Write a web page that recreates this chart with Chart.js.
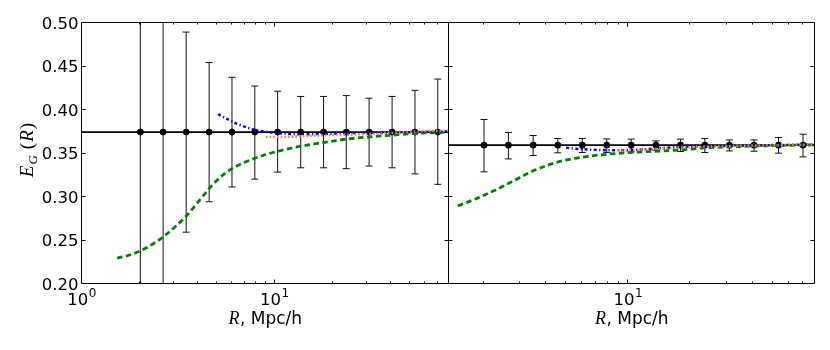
<!DOCTYPE html>
<html>
<head>
<meta charset="utf-8">
<script src="https://cdn.jsdelivr.net/npm/chart.js@4.4.1/dist/chart.umd.min.js"></script>
<style>
  html, body { margin: 0; padding: 0; background: #fff; }
  #wrap { position: relative; width: 830px; height: 350px; }
  canvas { position: absolute; left: 0; top: 0; }
</style>
</head>
<body>
<div id="wrap">
  <canvas id="leftChart" width="830" height="350"></canvas>
  <canvas id="rightChart" width="830" height="350"></canvas>
</div>
<script>
/* ================= DATA ================= */
// radial bins (Mpc/h), shared by both panels
const R_BINS = [2.02, 2.65, 3.49, 4.59, 6.03, 7.92, 10.4, 13.7, 18.0, 23.6, 31.0, 40.8, 53.6, 70.4];

// left panel
const EG_LEFT = 0.374;
const ERR_LO_LEFT = [0.10, 0.12, 0.259, 0.294, 0.311, 0.320, 0.328, 0.333, 0.333, 0.332, 0.335, 0.333, 0.326, 0.314];
const ERR_HI_LEFT = [0.60, 0.58, 0.489, 0.454, 0.437, 0.427, 0.421, 0.415, 0.415, 0.416, 0.413, 0.415, 0.422, 0.435];

const GREEN_R_LEFT = [1.53, 1.78, 2.02, 2.30, 2.65, 3.0, 3.49, 4.0, 4.59, 5.01, 5.54, 6.03, 6.9, 7.92, 9.12, 10.4, 11.6, 13.7, 18.0, 23.6, 31.0, 40.8, 53.6, 70.4, 80];
const GREEN_EG_LEFT = [0.229, 0.2328, 0.2375, 0.2443, 0.2536, 0.2635, 0.2774, 0.2930, 0.309, 0.318, 0.3265, 0.332, 0.3385, 0.344, 0.3485, 0.352, 0.3544, 0.3578, 0.362, 0.3659, 0.3685, 0.3705, 0.3724, 0.3736, 0.374];

const BLUE_R_LEFT = [5.11, 5.76, 6.49, 7.32, 8.42, 9.68, 11.1, 12.8, 14.7, 18.0, 23.3, 40.3, 69.6, 80];
const BLUE_EG_LEFT = [0.3946, 0.3885, 0.3831, 0.3789, 0.3754, 0.3736, 0.3724, 0.3716, 0.3716, 0.372, 0.3728, 0.3735, 0.3745, 0.3747];

const ORANGE_R_LEFT = [9.04, 11.6, 15.0, 23.3, 40.3, 62.0, 80];
const ORANGE_EG_LEFT = [0.3685, 0.3685, 0.3697, 0.371, 0.373, 0.3754, 0.3757];

// right panel
const EG_RIGHT = 0.359;
const ERR_LO_RIGHT = [0.3283, 0.3432, 0.3471, 0.3502, 0.3506, 0.3506, 0.3513, 0.3532, 0.3517, 0.3506, 0.3524, 0.352, 0.3498, 0.3455];
const ERR_HI_RIGHT = [0.3885, 0.3736, 0.3701, 0.3667, 0.3667, 0.3662, 0.3659, 0.3639, 0.3659, 0.3667, 0.365, 0.365, 0.3678, 0.3716];

const GREEN_R_RIGHT = [1.51, 1.85, 2.27, 2.78, 3.35, 4.11, 5.04, 6.30, 7.86, 9.82, 12.3, 17.8, 23.4, 30.8, 52.9, 80];
const GREEN_EG_RIGHT = [0.2892, 0.2975, 0.307, 0.3175, 0.3275, 0.336, 0.342, 0.3458, 0.3485, 0.3502, 0.3515, 0.3535, 0.3558, 0.357, 0.3586, 0.3593];

const BLUE_R_RIGHT = [5.04, 6.0, 7.0, 8.3, 11.0, 12.3, 17.8, 30.8, 52.9, 80];
const BLUE_EG_RIGHT = [0.3559, 0.3544, 0.3536, 0.3532, 0.3536, 0.3544, 0.357, 0.3582, 0.359, 0.360];

const ORANGE_R_RIGHT = [9.0, 12.0, 18.0, 30.0, 53.0, 80];
const ORANGE_EG_RIGHT = [0.3525, 0.354, 0.3565, 0.358, 0.359, 0.3598];

/* ================= AXES ================= */
const Y_MIN = 0.2, Y_MAX = 0.5;
const X_MIN_LEFT = 1, X_MAX_LEFT = 80;
const X_MIN_RIGHT = 1.36, X_MAX_RIGHT = 80;
const Y_TICKS = [0.20, 0.25, 0.30, 0.35, 0.40, 0.45, 0.50];
const Y_TICK_LABELS = ["0.20", "0.25", "0.30", "0.35", "0.40", "0.45", "0.50"];
const X_MAJOR_TICKS = [1, 10];
const X_MINOR_TICKS = [2, 3, 4, 5, 6, 7, 8, 9, 20, 30, 40, 50, 60, 70];

/* ================= HELPERS ================= */
const pts = (xs, ys) => xs.map((x, i) => ({ x, y: ys[i] }));
const snap = (v) => Math.floor(v) + 0.5;

function seg(ctx, x0, y0, x1, y1) {
  ctx.moveTo(x0, y0);
  ctx.lineTo(x1, y1);
}

function errorBarPlugin(rs, lo, hi) {
  return {
    id: "errorBars",
    beforeDatasetsDraw(chart) {
      const { ctx, chartArea: a, scales: { x, y } } = chart;
      ctx.save();
      ctx.beginPath();
      ctx.rect(a.left, a.top, a.right - a.left, a.bottom - a.top);
      ctx.clip();
      ctx.strokeStyle = "#111";
      ctx.lineWidth = 1;
      rs.forEach((r, i) => {
        const px = x.getPixelForValue(r);
        const y0 = y.getPixelForValue(lo[i]);
        const y1 = y.getPixelForValue(hi[i]);
        ctx.beginPath();
        seg(ctx, px, y0, px, y1);
        seg(ctx, px - 3.5, y0, px + 3.5, y0);
        seg(ctx, px - 3.5, y1, px + 3.5, y1);
        ctx.stroke();
      });
      ctx.restore();
    },
  };
}

function drawSupLabel(ctx, px, exp) {
  const big = '16.5px "DejaVu Sans"', small = '12px "DejaVu Sans"';
  ctx.font = big;
  const wb = ctx.measureText("10").width;
  ctx.font = small;
  const ws = ctx.measureText(exp).width;
  const x0 = px - (wb + ws) / 2;
  ctx.textAlign = "left";
  ctx.textBaseline = "alphabetic";
  ctx.font = big;
  ctx.fillText("10", x0, 305);
  ctx.font = small;
  ctx.fillText(exp, x0 + wb + 0.5, 297);
}

function drawXTitle(ctx, cx) {
  const it = 'italic 18px "Liberation Serif"', sans = '17px "DejaVu Sans"';
  ctx.font = it;
  const w1 = ctx.measureText("R").width;
  ctx.font = sans;
  const w2 = ctx.measureText(", Mpc/h").width;
  const x0 = cx - (w1 + w2) / 2;
  ctx.textAlign = "left";
  ctx.textBaseline = "alphabetic";
  ctx.font = it;
  ctx.fillText("R", x0, 324);
  ctx.font = sans;
  ctx.fillText(", Mpc/h", x0 + w1 + 0.5, 324);
}

function drawYTitle(ctx, cx, cy) {
  const big = 'italic 19px "Liberation Serif"';
  const up = '19px "Liberation Serif"';
  const sub = 'italic 13px "Liberation Serif"';
  const parts = [
    ["E", big, 0, 1],
    ["G", sub, 4, 6],
    ["(", up, 0, 1],
    ["R", big, 0, 1],
    [")", up, 0, 0],
  ];
  let total = 0;
  parts.forEach((p) => {
    ctx.font = p[1];
    p.push(ctx.measureText(p[0]).width);
    total += p[4] + p[3];
  });
  ctx.save();
  ctx.translate(cx, cy);
  ctx.rotate(-Math.PI / 2);
  ctx.textAlign = "left";
  ctx.textBaseline = "alphabetic";
  let x = -total / 2;
  parts.forEach((p) => {
    ctx.font = p[1];
    ctx.fillText(p[0], x, p[2]);
    x += p[4] + p[3];
  });
  ctx.restore();
}

function axesPlugin(showY) {
  return {
    id: "axesFrame",
    afterDraw(chart) {
      const { ctx, chartArea: a, scales: { x, y } } = chart;
      ctx.save();
      ctx.strokeStyle = "#000";
      ctx.fillStyle = "#000";
      ctx.lineWidth = 1;
      ctx.beginPath();
      ctx.rect(a.left, a.top, a.right - a.left, a.bottom - a.top);
      // y ticks, inward on both sides
      Y_TICKS.forEach((v) => {
        const py = snap(y.getPixelForValue(v));
        seg(ctx, a.left, py, a.left + 4, py);
        seg(ctx, a.right - 4, py, a.right, py);
      });
      // x ticks, inward top and bottom
      const xmin = x.min, xmax = x.max;
      X_MAJOR_TICKS.forEach((v) => {
        if (v <= xmin || v >= xmax) return;
        const px = snap(x.getPixelForValue(v));
        seg(ctx, px, a.bottom, px, a.bottom - 4);
        seg(ctx, px, a.top, px, a.top + 4);
      });
      X_MINOR_TICKS.forEach((v) => {
        if (v <= xmin || v >= xmax) return;
        const px = snap(x.getPixelForValue(v));
        seg(ctx, px, a.bottom, px, a.bottom - 2);
        seg(ctx, px, a.top, px, a.top + 2);
      });
      ctx.stroke();

      // tick labels
      if (showY) {
        ctx.font = '16.5px "DejaVu Sans"';
        ctx.textAlign = "right";
        ctx.textBaseline = "alphabetic";
        Y_TICKS.forEach((v, i) => {
          ctx.fillText(Y_TICK_LABELS[i], a.left - 3, y.getPixelForValue(v) + 6);
        });
        drawYTitle(ctx, 33, 150);
      }
      X_MAJOR_TICKS.forEach((v) => {
        if (v < xmin - 1e-9 || v > xmax) return;
        drawSupLabel(ctx, x.getPixelForValue(v), String(Math.round(Math.log10(v))));
      });
      drawXTitle(ctx, (a.left + a.right) / 2);
      ctx.restore();
    },
  };
}

/* ================= CHARTS ================= */
function buildPanel(canvasId, p) {
  const datasets = [
    {
      label: "orange",
      data: pts(p.orangeR, p.orangeEG),
      showLine: true,
      borderColor: "#ff7f2a",
      borderWidth: 2.5,
      borderDash: [1.5, 2.2],
      pointRadius: 0,
      cubicInterpolationMode: "monotone",
    },
    {
      label: "blue",
      data: pts(p.blueR, p.blueEG),
      showLine: true,
      borderColor: "#0000ff",
      borderWidth: 2.5,
      borderDash: [3, 2.5, 1.2, 2.5],
      pointRadius: 0,
      cubicInterpolationMode: "monotone",
    },
    {
      label: "green",
      data: pts(p.greenR, p.greenEG),
      showLine: true,
      borderColor: "#008000",
      borderWidth: 2.8,
      borderDash: [5.5, 3.5],
      pointRadius: 0,
      cubicInterpolationMode: "monotone",
    },
    {
      label: "measured",
      data: p.rs.map((r) => ({ x: r, y: p.eg })),
      showLine: false,
      pointRadius: 3.3,
      pointBackgroundColor: "#000",
      pointBorderColor: "#000",
      pointBorderWidth: 0,
    },
    {
      label: "fit",
      data: [{ x: p.xmin, y: p.eg }, { x: p.xmax, y: p.eg }],
      showLine: true,
      borderColor: "#000",
      borderWidth: 1.8,
      pointRadius: 0,
    },
  ];

  return new Chart(document.getElementById(canvasId), {
    type: "scatter",
    data: { datasets },
    options: {
      responsive: false,
      animation: false,
      events: [],
      layout: { padding: p.padding },
      plugins: { legend: { display: false }, tooltip: { enabled: false } },
      scales: {
        x: { type: "logarithmic", min: p.xmin, max: p.xmax, display: false },
        y: { type: "linear", min: Y_MIN, max: Y_MAX, display: false },
      },
    },
    plugins: [errorBarPlugin(p.rs, p.lo, p.hi), axesPlugin(p.showY)],
  });
}

buildPanel("leftChart", {
  rs: R_BINS, eg: EG_LEFT, lo: ERR_LO_LEFT, hi: ERR_HI_LEFT,
  greenR: GREEN_R_LEFT, greenEG: GREEN_EG_LEFT,
  blueR: BLUE_R_LEFT, blueEG: BLUE_EG_LEFT,
  orangeR: ORANGE_R_LEFT, orangeEG: ORANGE_EG_LEFT,
  xmin: X_MIN_LEFT, xmax: X_MAX_LEFT, showY: true,
  padding: { left: 81.5, top: 22.5, right: 830 - 448.5, bottom: 350 - 283.5 },
});

buildPanel("rightChart", {
  rs: R_BINS, eg: EG_RIGHT, lo: ERR_LO_RIGHT, hi: ERR_HI_RIGHT,
  greenR: GREEN_R_RIGHT, greenEG: GREEN_EG_RIGHT,
  blueR: BLUE_R_RIGHT, blueEG: BLUE_EG_RIGHT,
  orangeR: ORANGE_R_RIGHT, orangeEG: ORANGE_EG_RIGHT,
  xmin: X_MIN_RIGHT, xmax: X_MAX_RIGHT, showY: false,
  padding: { left: 448.5, top: 22.5, right: 830 - 814.5, bottom: 350 - 283.5 },
});
</script>
</body>
</html>
